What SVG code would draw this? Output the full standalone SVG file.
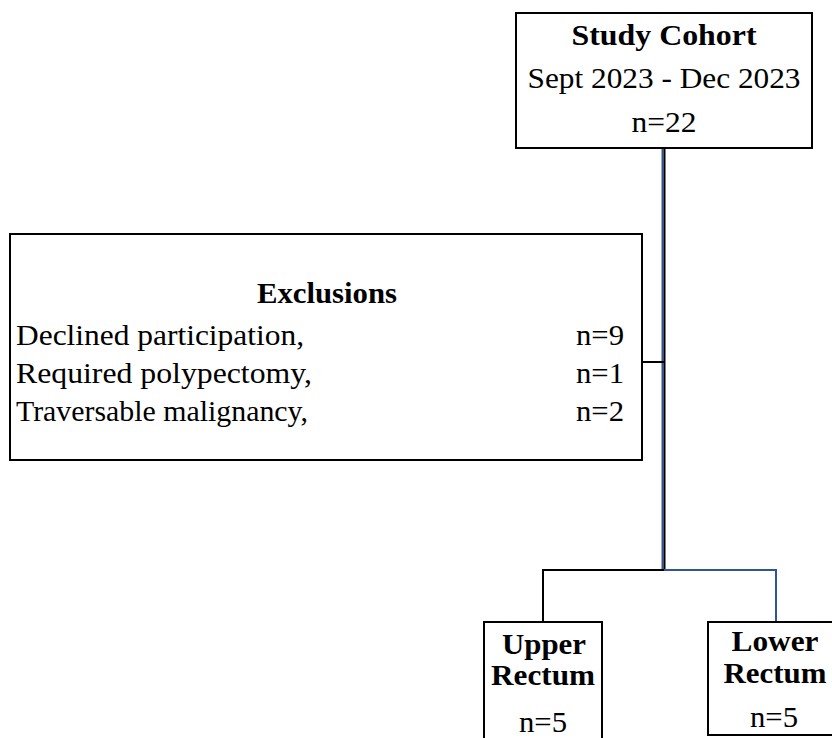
<svg xmlns="http://www.w3.org/2000/svg" width="832" height="738" viewBox="0 0 832 738">
<style>
.box{fill:#fff;stroke:#000;stroke-width:2}
.b{font-weight:bold}
.m{text-anchor:middle}
.e{text-anchor:end}
.k{stroke:#000;stroke-width:2;fill:none}
.bl{stroke:#2f5597;stroke-width:2;fill:none}
</style>
<rect width="832" height="738" fill="#fff"/>
<g id="connectors">
<line class="bl" x1="662.5" y1="148" x2="662.5" y2="571"/>
<line class="k" x1="664.5" y1="148" x2="664.5" y2="571"/>
<line class="k" x1="642" y1="362" x2="664" y2="362"/>
<polyline class="k" points="543,622 543,570 664,570"/>
<polyline class="bl" points="664,570 776,570 776,622"/>
</g>
<g id="study-cohort" font-family="'Liberation Serif', serif" font-size="29" fill="#000">
<rect class="box" x="516" y="13" width="296" height="135"/>
<text class="b m" x="664" y="45" textLength="185" lengthAdjust="spacingAndGlyphs">Study Cohort</text>
<text class="m" x="664" y="88" textLength="273" lengthAdjust="spacingAndGlyphs">Sept 2023 - Dec 2023</text>
<text class="m" x="664" y="132" textLength="65" lengthAdjust="spacingAndGlyphs">n=22</text>
</g>
<g id="exclusions" font-family="'Liberation Serif', serif" font-size="29" fill="#000">
<rect class="box" x="10" y="234" width="632" height="226"/>
<text class="b m" x="327" y="303" textLength="140" lengthAdjust="spacingAndGlyphs">Exclusions</text>
<text x="16" y="345" textLength="288" lengthAdjust="spacingAndGlyphs">Declined participation,</text>
<text class="e" x="624" y="345" textLength="48" lengthAdjust="spacingAndGlyphs">n=9</text>
<text x="16" y="383" textLength="296" lengthAdjust="spacingAndGlyphs">Required polypectomy,</text>
<text class="e" x="624" y="383" textLength="48" lengthAdjust="spacingAndGlyphs">n=1</text>
<text x="16" y="421" textLength="292" lengthAdjust="spacingAndGlyphs">Traversable malignancy,</text>
<text class="e" x="624" y="421" textLength="48" lengthAdjust="spacingAndGlyphs">n=2</text>
</g>
<g id="upper-rectum" font-family="'Liberation Serif', serif" font-size="29" fill="#000">
<rect class="box" x="484" y="622" width="118" height="130"/>
<text class="b m" x="544" y="654" textLength="84" lengthAdjust="spacingAndGlyphs">Upper</text>
<text class="b m" x="543" y="685" textLength="104" lengthAdjust="spacingAndGlyphs">Rectum</text>
<text class="m" x="543" y="732" textLength="48" lengthAdjust="spacingAndGlyphs">n=5</text>
</g>
<g id="lower-rectum" font-family="'Liberation Serif', serif" font-size="29" fill="#000">
<rect class="box" x="708" y="622" width="140" height="113"/>
<text class="b m" x="775" y="651" textLength="87" lengthAdjust="spacingAndGlyphs">Lower</text>
<text class="b m" x="775" y="683" textLength="103" lengthAdjust="spacingAndGlyphs">Rectum</text>
<text class="m" x="774" y="727" textLength="48" lengthAdjust="spacingAndGlyphs">n=5</text>
</g>
</svg>
